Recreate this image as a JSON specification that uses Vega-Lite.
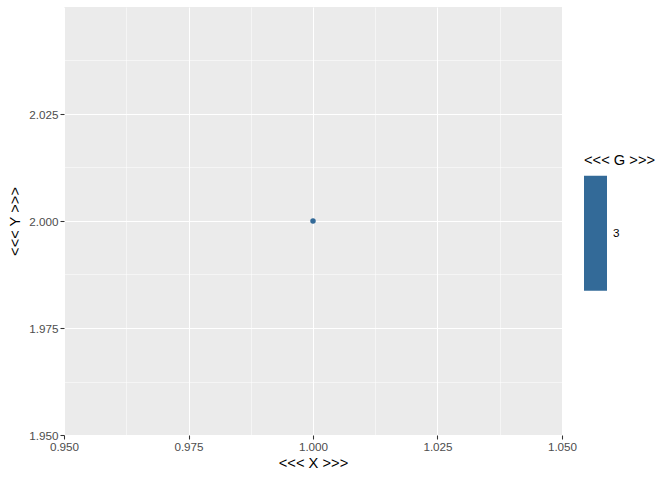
{
  "$schema": "https://vega.github.io/schema/vega-lite/v6.json",
  "width": 498,
  "height": 428,
  "autosize": {"type": "none"},
  "padding": {"left": 64, "top": 7, "right": 110, "bottom": 45},
  "background": "white",
  "config": {
    "font": "Liberation Sans",
    "view": {"fill": "#EBEBEB", "stroke": null},
    "axis": {
      "gridColor": "white",
      "domain": false,
      "tickColor": "#333333",
      "tickSize": 4,
      "tickWidth": 1.07,
      "labelColor": "#4D4D4D",
      "labelFontSize": 11.7,
      "labelFont": "Liberation Sans",
      "titleFont": "Liberation Sans",
      "titleFontSize": 14.7,
      "titleFontWeight": "normal",
      "titleColor": "black",
      "labelPadding": 2
    }
  },
  "data": {"values": [{"X": 1.0, "Y": 2.0, "G": 3}]},
  "layer": [
    {
      "mark": {"type": "point", "opacity": 0},
      "encoding": {
        "x": {
          "field": "X", "type": "quantitative",
          "scale": {"domain": [0.95, 1.05], "nice": false, "zero": false},
          "axis": {"orient": "bottom", "values": [0.9625, 0.9875, 1.0125, 1.0375], "grid": true, "gridWidth": 0.53, "labels": false, "ticks": false, "title": null}
        },
        "y": {
          "field": "Y", "type": "quantitative",
          "scale": {"domain": [1.95, 2.05], "nice": false, "zero": false},
          "axis": {"orient": "left", "values": [1.9625, 1.9875, 2.0125, 2.0375], "grid": true, "gridWidth": 0.53, "labels": false, "ticks": false, "title": null}
        }
      }
    },
    {
      "mark": {"type": "circle", "size": 30, "opacity": 1},
      "encoding": {
        "x": {
          "field": "X", "type": "quantitative",
          "scale": {"domain": [0.95, 1.05], "nice": false, "zero": false},
          "axis": {"orient": "bottom", "values": [0.95, 0.975, 1.0, 1.025, 1.05], "format": ".3f", "grid": true, "gridWidth": 1.07, "title": "<<< X >>>", "titlePadding": 3, "labelFlush": false}
        },
        "y": {
          "field": "Y", "type": "quantitative",
          "scale": {"domain": [1.95, 2.05], "nice": false, "zero": false},
          "axis": {"orient": "left", "values": [1.95, 1.975, 2.0, 2.025], "format": ".3f", "grid": true, "gridWidth": 1.07, "title": "<<< Y >>>", "titlePadding": 6, "labelFlush": false}
        },
        "color": {
          "field": "G", "type": "quantitative",
          "scale": {"domain": [2, 4], "range": ["#336A98", "#336A98"]},
          "legend": {
            "title": "<<< G >>>",
            "orient": "none",
            "legendX": 520,
            "legendY": 146,
            "direction": "vertical",
            "gradientLength": 115,
            "gradientThickness": 23,
            "gradientStrokeWidth": 0,
            "values": [3],
            "titleFont": "Liberation Sans",
            "titleFontSize": 14.7,
            "titleFontWeight": "normal",
            "titleColor": "black",
            "titlePadding": 8,
            "labelFont": "Liberation Sans",
            "labelFontSize": 11.7,
            "labelColor": "black",
            "labelOffset": 6
          }
        }
      }
    }
  ],
  "resolve": {"axis": {"x": "independent", "y": "independent"}}
}
